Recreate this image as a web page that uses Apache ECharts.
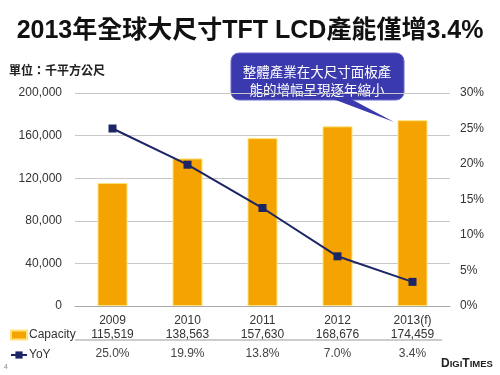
<!DOCTYPE html>
<html><head><meta charset="utf-8">
<script src="https://cdn.jsdelivr.net/npm/echarts@6/dist/echarts.min.js"></script>
<style>html,body{margin:0;padding:0;background:#fff}#c{width:500px;height:375px}</style>
</head><body><div id="c"></div>
<script>
var categories = ['2009','2010','2011','2012','2013(f)'];
var capacity = [115519,138563,157630,168676,174459];
var yoy = [25.0,19.9,13.8,7.0,3.4];
var leftTicks = {min:0,max:200000,interval:40000};
var rightTicks = {min:0,max:30,interval:5};

var chart = echarts.init(document.getElementById('c'), null, {renderer:'canvas'});
var numFmt = function(v){return v.toString().replace(/\B(?=(\d{3})+(?!\d))/g, ',');};
var baseFont = '"Liberation Sans", Arial, sans-serif';
var cjk = '"Liberation Sans", "Noto Sans CJK TC", "Noto Sans CJK SC", sans-serif';

chart.setOption({
  animation:false,
  textStyle:{fontFamily:baseFont},
  title:[{
    text:'2013年全球大尺寸TFT LCD產能僅增3.4%',
    left:'center', top:14,
    textStyle:{fontFamily:cjk,fontSize:25,fontWeight:'bold',color:'#111'}
  },{
    text:'單位：千平方公尺', left:4, top:61,
    textStyle:{fontFamily:cjk,fontSize:12,fontWeight:'bold',color:'#222'}
  }],
  grid:{left:75,right:50,top:93,bottom:69},
  legend:{
    orient:'vertical', left:5, top:324, itemGap:8, itemWidth:16, itemHeight:9,
    textStyle:{fontSize:12,color:'#333',padding:[0,0,0,-3]},
    data:[{name:'Capacity',icon:'rect'},{name:'YoY'}]
  },
  xAxis:{
    type:'category', data:categories,
    axisLine:{lineStyle:{color:'#aaa'}}, axisTick:{show:false},
    axisLabel:{
      interval:0, margin:8, color:'#333', fontSize:12,
      formatter:function(v,i){
        return '{y|'+v+'}\n{c|'+numFmt(capacity[i])+'}\n{p|'+yoy[i].toFixed(1)+'%}';
      },
      rich:{y:{lineHeight:14,fontSize:12,color:'#333'},c:{lineHeight:13,fontSize:12,color:'#333'},p:{lineHeight:26,fontSize:12,color:'#444'}}
    }
  },
  yAxis:[{
    type:'value', min:leftTicks.min, max:leftTicks.max, interval:leftTicks.interval,
    axisLine:{show:false}, axisTick:{show:false},
    splitLine:{lineStyle:{color:'#c8c8c8'}},
    axisLabel:{margin:13,color:'#333',fontSize:12,formatter:function(v){return numFmt(v);}}
  },{
    type:'value', min:rightTicks.min, max:rightTicks.max, interval:rightTicks.interval,
    axisLine:{show:false}, axisTick:{show:false}, splitLine:{show:false},
    axisLabel:{margin:10,color:'#333',fontSize:12,formatter:'{value}%'}
  }],
  series:[{
    name:'Capacity', type:'bar', data:capacity, barWidth:30, yAxisIndex:0,
    itemStyle:{color:'#F5A300',borderColor:'#FFE27A',borderWidth:1}
  },{
    name:'YoY', type:'line', data:yoy, yAxisIndex:1,
    symbol:'rect', symbolSize:8,
    lineStyle:{color:'#1C2566',width:2}, itemStyle:{color:'#1C2566'}
  }],
  graphic:[
    {type:'line',shape:{x1:75,y1:340,x2:442,y2:340},style:{stroke:'#999',lineWidth:1}},
    {type:'rect',shape:{x:231,y:53,width:173,height:47,r:8},style:{fill:'#3A3AAE',stroke:'#6a6ad0',lineWidth:1}},
    {type:'polygon',shape:{points:[[333,99],[351,99],[394,122]]},style:{fill:'#3A3AAE'}},
    {type:'text',x:317,y:63,style:{text:'整體產業在大尺寸面板產\n能的增幅呈現逐年縮小',fill:'#fff',font:'13.5px "Noto Sans CJK TC", sans-serif',textAlign:'center',lineHeight:18}},
    {type:'text',x:441,y:358,style:{text:'{b|D}{s|IGI}{b|T}{s|IMES}',rich:{b:{fontSize:12,fontWeight:'bold',fill:'#222',fontFamily:'"Liberation Sans"'},s:{fontSize:9.5,fontWeight:'bold',fill:'#222',fontFamily:'"Liberation Sans"'}}}},
    {type:'text',x:4,y:364,style:{text:'4',fill:'#888',font:'7px sans-serif'}}
  ]
});
</script></body></html>
